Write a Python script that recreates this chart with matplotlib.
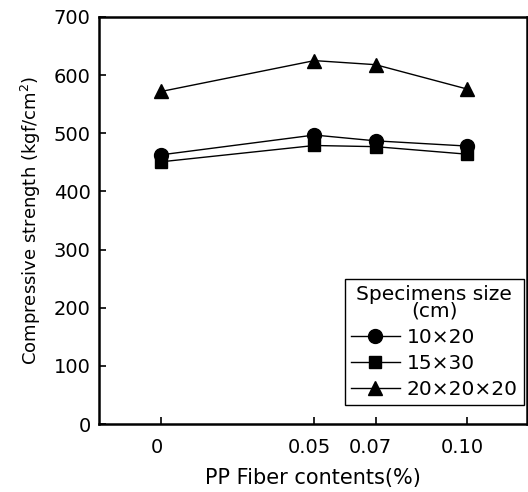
import matplotlib
matplotlib.use("Agg")
import matplotlib.pyplot as plt
import matplotlib.transforms as mtransforms

fiber = [0.0, 0.05, 0.07, 0.10]
xtick_labels = ["0", "0.05", "0.07", "0.10"]
s10x20 = [463, 497, 487, 478]
s15x30 = [451, 479, 477, 464]
s20cube = [572, 625, 618, 576]
series_labels = ["10×20", "15×30", "20×20×20"]
yticks = [0, 100, 200, 300, 400, 500, 600, 700]

plt.rcParams['font.family'] = ['DejaVu Sans']

fig = plt.figure(figsize=(5.28, 4.92), dpi=100)
ax = fig.add_axes([99/528, 1-424/492, (527-99)/528, (424-17)/492])

ax.plot(fiber, s10x20, '-', color='black', lw=1, marker='o', ms=10, label=series_labels[0])
ax.plot(fiber, s15x30, '-', color='black', lw=1, marker='s', ms=9, label=series_labels[1])
ax.plot(fiber, s20cube, '-', color='black', lw=1, marker='^', ms=10, label=series_labels[2])

ax.set_xlim(-0.0204, 0.1195)
ax.set_ylim(0, 700)
ax.set_yticks(yticks)
ax.set_xticks(fiber)
ax.set_xticklabels(xtick_labels)
ax.tick_params(direction='in', length=5, width=1.2, labelsize=14)
ax.tick_params(axis='x', pad=10)
ax.tick_params(axis='y', pad=6)
offset = mtransforms.ScaledTranslation(-5/100, 0, fig.dpi_scale_trans)
for lab in ax.get_xticklabels():
    lab.set_transform(lab.get_transform() + offset)
for sp in ax.spines.values():
    sp.set_linewidth(1.8)

ax.set_xlabel("PP Fiber contents(%)", fontsize=15, labelpad=8)
ax.set_ylabel("Compressive strength (kgf/cm$^{2}$)", fontsize=13, labelpad=8)

leg = ax.legend(title="Specimens size\n(cm)", loc='lower right',
                bbox_to_anchor=(524/528, 1-405/492), bbox_transform=fig.transFigure,
                borderaxespad=0, fancybox=False, edgecolor='black', framealpha=1,
                fontsize=14.5, title_fontsize=14.5, handlelength=2.45, handletextpad=0.35,
                borderpad=0.3, labelspacing=0.35)
leg.get_frame().set_linewidth(1.0)
leg.get_title().set_multialignment('center')
leg.get_title().set_linespacing(0.85)

fig.savefig("out.png", dpi=100)
